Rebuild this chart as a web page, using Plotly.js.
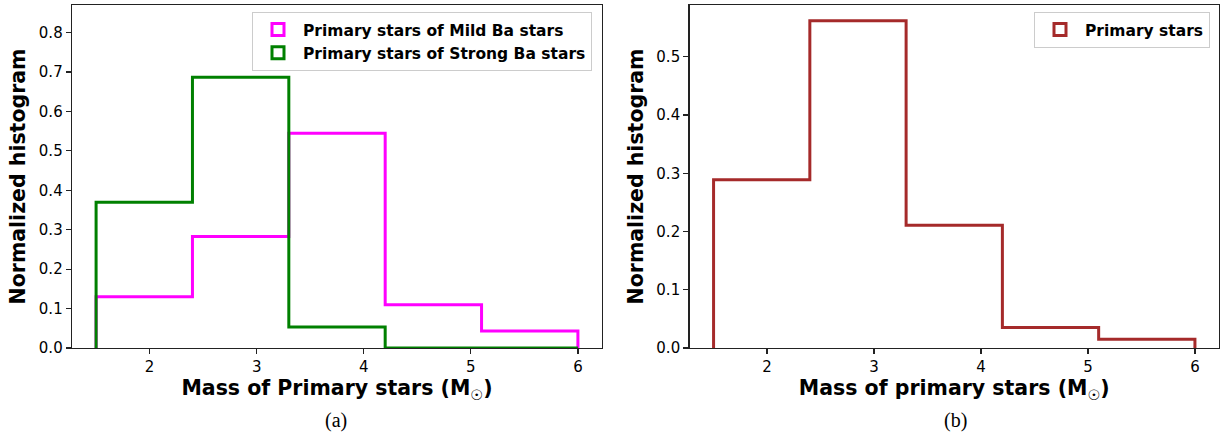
<!DOCTYPE html>
<html>
<head>
<meta charset="utf-8">
<script src="https://cdn.plot.ly/plotly-3.0.1.min.js"></script>
<style>html,body{margin:0;padding:0;background:#fff;}#chart{width:1220px;height:437px;}</style>
</head>
<body>
<div id="chart"></div>
<script>
// Bin edges (mass of primary stars, M_sun)
const binEdges = [1.5, 2.4, 3.3, 4.2, 5.1, 6.0];
// Normalized histogram values per bin
const mildBa = [0.130, 0.283, 0.545, 0.110, 0.043];
const strongBa = [0.370, 0.687, 0.053, 0.0, 0.0];
const allPrimary = [0.289, 0.562, 0.211, 0.035, 0.015];
const seriesNames = ["Primary stars of Mild Ba stars", "Primary stars of Strong Ba stars", "Primary stars"];
const xTicks = [2, 3, 4, 5, 6];

function stepPath(edges, vals) {
  const x = [edges[0]], y = [0];
  for (let i = 0; i < vals.length; i++) {
    x.push(edges[i], edges[i + 1]);
    y.push(vals[i], vals[i]);
  }
  x.push(edges[edges.length - 1]);
  y.push(0);
  return {x, y};
}

function stepTrace(vals, name, color, xa, ya, legend) {
  const p = stepPath(binEdges, vals);
  return {
    type: 'scatter', mode: 'lines', x: p.x, y: p.y, name: name,
    xaxis: xa, yaxis: ya, showlegend: false,
    line: {color: color, width: 3, shape: 'linear'},
    hoverinfo: 'skip'
  };
}
// legend-only bar entries (outlined rectangle symbol like matplotlib step hist)
function legendEntry(name, color, xa, ya, legend) {
  return {
    type: 'bar', x: [null], y: [null], name: name, xaxis: xa, yaxis: ya, legend: legend,
    marker: {color: 'rgba(0,0,0,0)', line: {color: color, width: 3}},
    showlegend: true, hoverinfo: 'skip'
  };
}

const traces = [
  stepTrace(mildBa, seriesNames[0], '#ff00ff', 'x', 'y'),
  stepTrace(strongBa, seriesNames[1], '#008000', 'x', 'y'),
  stepTrace(allPrimary, seriesNames[2], '#a52a2a', 'x2', 'y2'),
  legendEntry(seriesNames[0], '#ff00ff', 'x', 'y', 'legend'),
  legendEntry(seriesNames[1], '#008000', 'x', 'y', 'legend'),
  legendEntry(seriesNames[2], '#a52a2a', 'x2', 'y2', 'legend2')
];

const tickFont = {family: 'DejaVu Sans, sans-serif', size: 15, color: '#000'};
const titleFont = {family: 'DejaVu Sans, sans-serif', size: 20.5, color: '#000', weight: 'bold'};
const legendFont = {family: 'DejaVu Sans, sans-serif', size: 15.5, color: '#000', weight: 'bold'};

function xAxis(domain, anchor, title) {
  return {
    domain: domain, anchor: anchor, range: [1.275, 6.225],
    tickvals: xTicks, ticktext: xTicks.map(String),
    ticks: 'outside', ticklen: 5, tickwidth: 1.2, tickcolor: '#222',
    showline: true, linecolor: '#222', linewidth: 1.3, mirror: true,
    showgrid: false, zeroline: false, tickfont: tickFont,
    title: {text: title, font: titleFont, standoff: 5}
  };
}
function yAxis(domain, anchor, range, dtick) {
  return {
    domain: domain, anchor: anchor, range: range, dtick: dtick, tick0: 0,
    tickformat: '.1f',
    ticks: 'outside', ticklen: 5, tickwidth: 1.2, tickcolor: '#222',
    showline: true, linecolor: '#222', linewidth: 1.3, mirror: true,
    showgrid: false, zeroline: false, tickfont: tickFont,
    title: {text: 'Normalized histogram', font: titleFont, standoff: 7}
  };
}

const yDom = [89/437, 432/437];
const layout = {
  width: 1220, height: 437,
  margin: {l: 0, r: 0, t: 0, b: 0},
  paper_bgcolor: '#fff', plot_bgcolor: '#fff',
  showlegend: true, barmode: 'overlay',
  xaxis: xAxis([72/1220, 602/1220], 'y', 'Mass of Primary stars (M<sub>☉</sub>)'),
  yaxis: yAxis(yDom, 'x', [0, 0.87], 0.1),
  xaxis2: xAxis([689.5/1220, 1219/1220], 'y2', 'Mass of primary stars (M<sub>☉</sub>)'),
  yaxis2: yAxis(yDom, 'x2', [0, 0.589], 0.1),
  legend: {
    x: 592/1220, xanchor: 'right', y: 1 - 12/437, yanchor: 'top',
    bgcolor: 'rgba(255,255,255,0.8)', bordercolor: '#cccccc', borderwidth: 1,
    font: legendFont, tracegroupgap: 0, itemwidth: 40, traceorder: 'normal'
  },
  legend2: {
    x: 1210/1220, xanchor: 'right', y: 1 - 12/437, yanchor: 'top',
    bgcolor: 'rgba(255,255,255,0.8)', bordercolor: '#cccccc', borderwidth: 1,
    font: legendFont, itemwidth: 40
  },
  annotations: [
    {text: '(a)', xref: 'paper', yref: 'paper', x: 336/1220, y: 1 - 420/437, xanchor: 'center', yanchor: 'middle', showarrow: false,
     font: {family: 'Liberation Serif, Times New Roman, serif', size: 20, color: '#000'}},
    {text: '(b)', xref: 'paper', yref: 'paper', x: 955/1220, y: 1 - 420/437, xanchor: 'center', yanchor: 'middle', showarrow: false,
     font: {family: 'Liberation Serif, Times New Roman, serif', size: 20, color: '#000'}}
  ]
};

Plotly.newPlot('chart', traces, layout, {displayModeBar: false, staticPlot: true});
</script>
</body>
</html>
